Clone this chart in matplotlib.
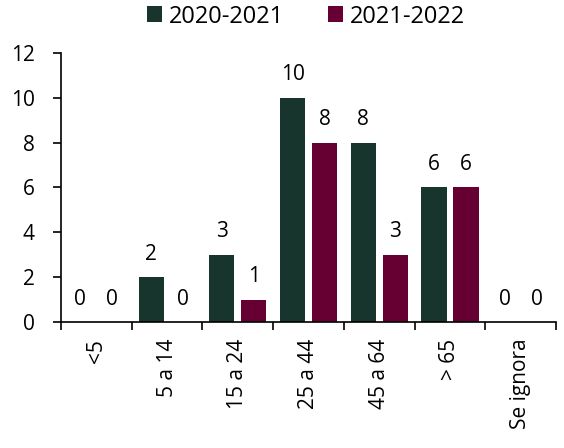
import numpy as np
import matplotlib.pyplot as plt

categories = ["<5", "5 a 14", "15 a 24", "25 a 44", "45 a 64", "> 65", "Se ignora"]
series_2020 = [0, 2, 3, 10, 8, 6, 0]
series_2021 = [0, 0, 1, 8, 3, 6, 0]

green = "#17342d"
maroon = "#660033"

plt.rcParams['font.family'] = ['Open Sans', 'DejaVu Sans']
plt.rcParams['font.size'] = 15

fig = plt.figure(figsize=(5.64, 4.48), dpi=100)
ax = fig.add_axes([0.108, 0.281, 0.878, 0.601])

x = np.arange(len(categories))
w = 0.354
off = 0.226
b1 = ax.bar(x - off, series_2020, w, color=green, label="2020-2021")
b2 = ax.bar(x + off, series_2021, w, color=maroon, label="2021-2022")

for bars, vals in ((b1, series_2020), (b2, series_2021)):
    for rect, v in zip(bars, vals):
        ax.annotate(str(v), (rect.get_x() + rect.get_width() / 2, v),
                    xytext=(0, 9), textcoords="offset points",
                    ha="center", va="bottom", fontsize=15)

ax.set_xlim(-0.5, len(categories) - 0.5)
ax.set_ylim(0, 12)
ax.set_yticks(range(0, 13, 2))
ax.set_xticks(x)
ax.set_xticklabels(categories, rotation=90)
ax.tick_params(axis="x", length=0, pad=12)
ax.set_xticks(np.arange(-0.5, len(categories)), minor=True)
ax.tick_params(axis="x", which="minor", length=6, width=1.2)
ax.tick_params(axis="y", length=6, width=1.2, pad=13)
ax.spines["top"].set_visible(False)
ax.spines["right"].set_visible(False)
ax.spines["left"].set_linewidth(1.2)
ax.spines["bottom"].set_linewidth(1.2)

ax.legend(loc="center", bbox_to_anchor=(0.495, 1.135), ncol=2, frameon=False,
          handlelength=0.64, handleheight=0.64, handletextpad=0.3, columnspacing=1.86,
          fontsize=17)

plt.savefig("out.png")
